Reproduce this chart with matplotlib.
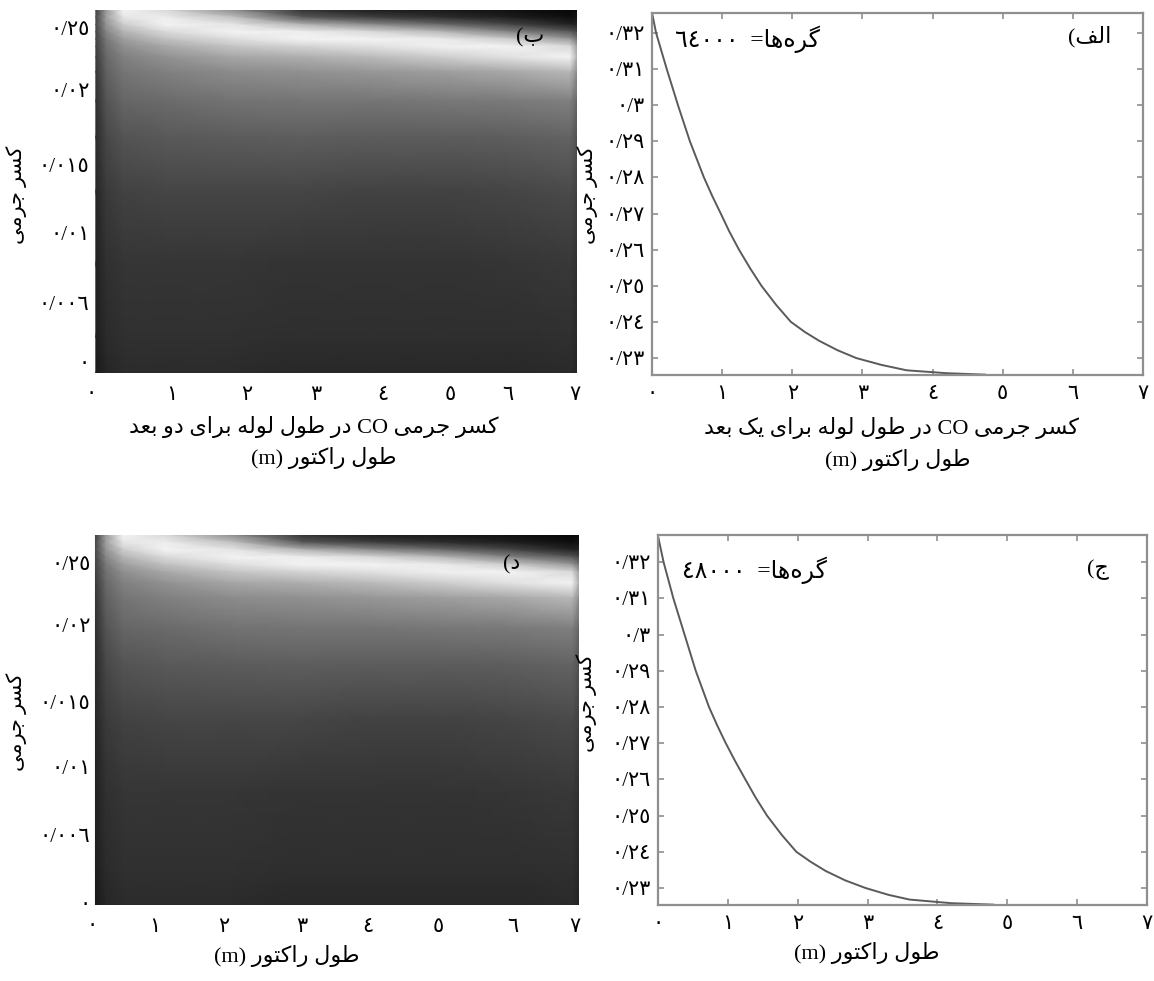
import numpy as np
import matplotlib
matplotlib.use("Agg")
import matplotlib.pyplot as plt

plt.rcParams['font.family'] = ['Liberation Serif', 'DejaVu Sans']

# --- data ---
x_ticks = [0, 1, 2, 3, 4, 5, 6, 7]
x_tick_labels = ['٠', '١', '٢', '٣', '٤', '٥', '٦', '٧']

# line panels (1D)
line_y_ticks = [0.32, 0.31, 0.30, 0.29, 0.28, 0.27, 0.26, 0.25, 0.24, 0.23]
line_y_labels = ['٠/٣٢', '٠/٣١', '٠/٣', '٠/٢٩', '٠/٢٨', '٠/٢٧', '٠/٢٦', '٠/٢٥', '٠/٢٤', '٠/٢٣']

a_x = [0, 0.058, 0.21, 0.37, 0.54, 0.74, 0.86, 0.98, 1.1, 1.24, 1.4, 1.56, 1.77, 1.98,
       2.18, 2.38, 2.64, 2.91, 3.27, 3.63, 4.2, 4.75]
a_y = [0.3256, 0.32, 0.31, 0.30, 0.29, 0.28, 0.2748, 0.27, 0.2651, 0.26, 0.2548, 0.25, 0.2447, 0.24,
       0.2372, 0.2348, 0.2322, 0.23, 0.2281, 0.2266, 0.2258, 0.2254]
a_ylim = (0.2253, 0.3255)

c_x = [0, 0.08, 0.22, 0.38, 0.54, 0.73, 0.85, 0.97, 1.1, 1.25, 1.4, 1.56, 1.77, 1.98,
       2.18, 2.4, 2.68, 2.97, 3.3, 3.6, 4.2, 4.8]
c_y = [0.3272, 0.32, 0.31, 0.30, 0.29, 0.28, 0.2748, 0.27, 0.2652, 0.26, 0.2549, 0.25, 0.2447, 0.24,
       0.2373, 0.2347, 0.2321, 0.23, 0.2281, 0.2268, 0.2258, 0.2254]
c_ylim = (0.2253, 0.3275)

# heatmap panels (2D), grey level 0=black 1=white
hm_x = [0, 0.15, 0.4, 1, 2, 3, 4, 5, 6, 6.9, 7]
hm_depth = [0, 0.02, 0.04, 0.06, 0.08, 0.10, 0.13, 0.17, 0.25, 0.35, 0.5, 0.7, 0.9, 1.0]
hm_gray = [
    [0.25, 0.60, 0.95, 0.85, 0.55, 0.20, 0.12, 0.10, 0.07, 0.03, 0.05],
    [0.28, 0.62, 0.90, 0.93, 0.75, 0.35, 0.25, 0.18, 0.12, 0.06, 0.08],
    [0.28, 0.58, 0.80, 0.95, 0.90, 0.70, 0.55, 0.42, 0.28, 0.14, 0.14],
    [0.27, 0.52, 0.70, 0.85, 0.95, 0.93, 0.85, 0.72, 0.52, 0.35, 0.28],
    [0.26, 0.47, 0.62, 0.75, 0.87, 0.95, 0.95, 0.92, 0.80, 0.60, 0.45],
    [0.25, 0.44, 0.56, 0.66, 0.77, 0.83, 0.88, 0.94, 0.95, 0.85, 0.62],
    [0.23, 0.41, 0.50, 0.57, 0.65, 0.68, 0.73, 0.80, 0.88, 0.95, 0.68],
    [0.21, 0.38, 0.46, 0.50, 0.55, 0.57, 0.59, 0.62, 0.66, 0.72, 0.55],
    [0.19, 0.33, 0.40, 0.42, 0.45, 0.46, 0.46, 0.47, 0.48, 0.50, 0.40],
    [0.17, 0.28, 0.33, 0.35, 0.36, 0.37, 0.36, 0.36, 0.37, 0.39, 0.32],
    [0.15, 0.23, 0.26, 0.27, 0.27, 0.27, 0.26, 0.26, 0.27, 0.29, 0.25],
    [0.13, 0.19, 0.21, 0.21, 0.21, 0.20, 0.20, 0.20, 0.21, 0.22, 0.19],
    [0.12, 0.17, 0.19, 0.19, 0.19, 0.18, 0.18, 0.18, 0.18, 0.19, 0.16],
    [0.10, 0.15, 0.17, 0.17, 0.17, 0.16, 0.16, 0.16, 0.16, 0.17, 0.14],
]
hm_y_labels = ['٠/٢٥', '٠/٠٢', '٠/٠١٥', '٠/٠١', '٠/٠٠٦', '٠']
b_y_ticks = [0.950, 0.780, 0.573, 0.386, 0.193, 0.030]
d_y_ticks = [0.924, 0.757, 0.549, 0.373, 0.189, 0.005]
b_x_ticks = [-0.07, 1.11, 2.19, 3.2, 4.18, 5.16, 5.99, 6.97]
d_x_ticks = [-0.05, 0.86, 1.86, 2.99, 3.94, 4.96, 6.04, 6.94]

# --- minimal Persian shaping (matplotlib has no RTL/joining support) ---
FORMS = {
    'ا': (0xFE8D, 0xFE8E), 'د': (0xFEA9, 0xFEAA), 'ر': (0xFEAD, 0xFEAE),
    'و': (0xFEED, 0xFEEE),
    'ب': (0xFE8F, 0xFE90, 0xFE91, 0xFE92), 'ت': (0xFE95, 0xFE96, 0xFE97, 0xFE98),
    'ج': (0xFE9D, 0xFE9E, 0xFE9F, 0xFEA0), 'س': (0xFEB1, 0xFEB2, 0xFEB3, 0xFEB4),
    'ط': (0xFEC1, 0xFEC2, 0xFEC3, 0xFEC4), 'ع': (0xFEC9, 0xFECA, 0xFECB, 0xFECC),
    'ف': (0xFED1, 0xFED2, 0xFED3, 0xFED4), 'ل': (0xFEDD, 0xFEDE, 0xFEDF, 0xFEE0),
    'م': (0xFEE1, 0xFEE2, 0xFEE3, 0xFEE4), 'ه': (0xFEE9, 0xFEEA, 0xFEEB, 0xFEEC),
    'ک': (0xFB8E, 0xFB8F, 0xFB90, 0xFB91), 'گ': (0xFB92, 0xFB93, 0xFB94, 0xFB95),
    'ی': (0xFBFC, 0xFBFD, 0xFBFE, 0xFBFF),
}


def shape(s):
    out = []
    for i, ch in enumerate(s):
        if ch not in FORMS:
            out.append(ch)
            continue
        f = FORMS[ch]
        prev = s[i - 1] if i > 0 else ''
        nxt = s[i + 1] if i + 1 < len(s) else ''
        jp = prev in FORMS and len(FORMS[prev]) == 4
        jn = len(f) == 4 and nxt in FORMS
        if jp and jn:
            g = f[3]
        elif jp:
            g = f[1]
        elif jn:
            g = f[2]
        else:
            g = f[0]
        out.append(chr(g))
    return ''.join(out).replace('\u200c', '')


def fa(s):
    return shape(s)[::-1]


W, H = 1154, 981
fig = plt.figure(figsize=(W / 100, H / 100), dpi=100)


def box(x0, y0, x1, y1):
    return [x0 / W, 1 - y1 / H, (x1 - x0) / W, (y1 - y0) / H]


def ftext(x, y, s, **kw):
    fig.text(x / W, 1 - y / H, s, ha='center', va='center', **kw)


def heat_panel(rect, yt, xt):
    ax = fig.add_axes(rect)
    X, Y = np.meshgrid(hm_x, 1 - np.array(hm_depth))
    ax.pcolormesh(X, Y, np.array(hm_gray), cmap='gray', vmin=0, vmax=1, shading='gouraud')
    ax.set_xlim(0, 7)
    ax.set_ylim(0, 1)
    for s in ax.spines.values():
        s.set_visible(False)
    ax.set_yticks(yt, labels=hm_y_labels, fontsize=15)
    ax.set_xticks(xt, labels=x_tick_labels, fontsize=15)
    ax.tick_params(length=0, pad=1)
    ax.tick_params(axis='x', pad=9)
    return ax


def line_panel(rect, xs, ys, ylim):
    ax = fig.add_axes(rect)
    ax.plot(xs, ys, color='#5a5a5a', lw=1.4)
    ax.set_xlim(0, 7)
    ax.set_ylim(*ylim)
    ax.set_yticks(line_y_ticks, labels=line_y_labels, fontsize=15)
    ax.set_xticks(x_ticks, labels=x_tick_labels, fontsize=15)
    for s in ax.spines.values():
        s.set_color('#8f8f8f')
        s.set_linewidth(1.6)
    ax.tick_params(direction='in', length=4, width=1.2, color='#8f8f8f',
                   top=True, right=True, pad=5)
    ax.tick_params(axis='x', pad=7)
    return ax


ax_b = heat_panel(box(91, 10, 577, 373), b_y_ticks, b_x_ticks)
ax_a = line_panel(box(652, 13, 1143, 375), a_x, a_y, a_ylim)
ax_d = heat_panel(box(92, 535, 579, 905), d_y_ticks, d_x_ticks)
ax_c = line_panel(box(658, 535, 1147, 905), c_x, c_y, c_ylim)

# panel tags and node counts
ftext(530, 38, '(' + fa('ب'), fontsize=16)
ftext(512, 565, '(' + fa('د'), fontsize=16)
ftext(1090, 37, '(' + fa('الف'), fontsize=16)
ftext(1098, 570, '(' + fa('ج'), fontsize=16)
ftext(747, 39, '٦٤٠٠٠  =' + fa('گره‌ها'), fontsize=17)
ftext(754, 570, '٤٨٠٠٠  =' + fa('گره‌ها'), fontsize=17)

# axis titles
ylab = fa('کسر جرمی')
ftext(17, 195, ylab, fontsize=15, rotation=90)
ftext(588, 195, ylab, fontsize=15, rotation=90)
ftext(17, 722, ylab, fontsize=15, rotation=90)
ftext(587, 703, ylab, fontsize=15, rotation=90)

cap = ' CO ' + fa('کسر جرمی')
xlab = '(m) ' + fa('طول راکتور')
ftext(314, 427, fa('در طول لوله برای دو بعد') + cap, fontsize=16)
ftext(324, 458, xlab, fontsize=16)
ftext(891, 428, fa('در طول لوله برای یک بعد') + cap, fontsize=16)
ftext(898, 460, xlab, fontsize=16)
ftext(287, 956, xlab, fontsize=16)
ftext(867, 953, xlab, fontsize=16)

fig.savefig('out.png', dpi=100)
